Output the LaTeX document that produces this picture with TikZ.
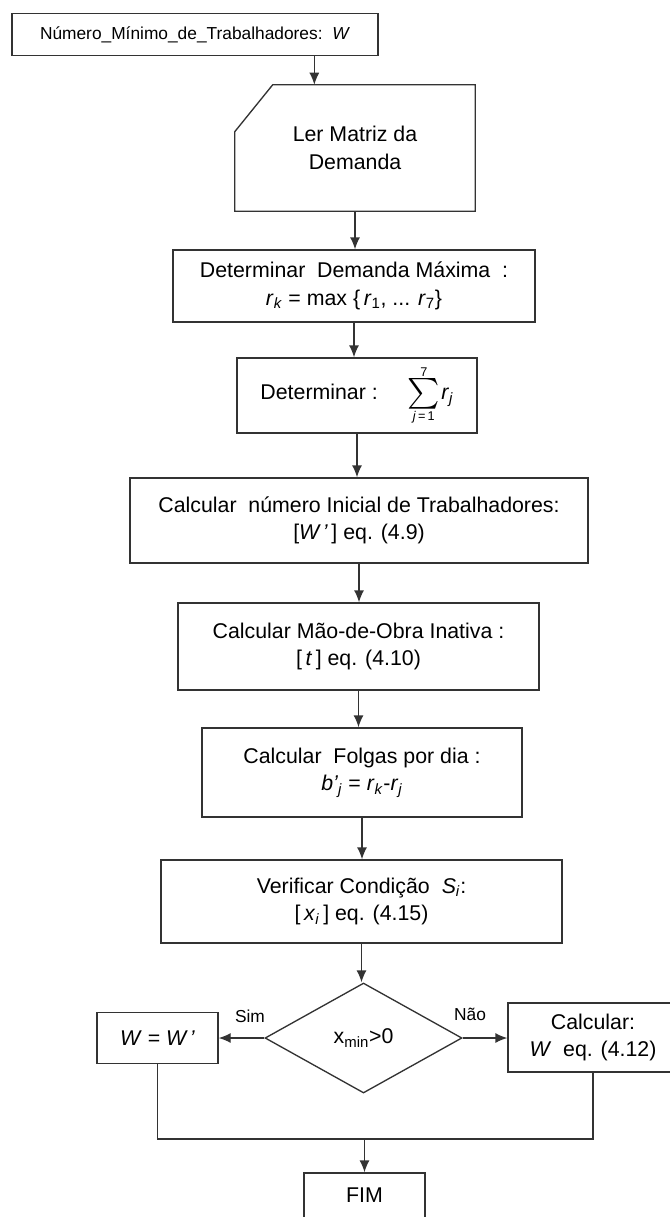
\documentclass[tikz,border=0pt]{standalone}
\usepackage{fontspec}
\usepackage{graphicx}
\setmainfont{Liberation Sans}
\usetikzlibrary{arrows.meta,shapes.geometric,calc}
\newdimen\pxu \pxu=0.75pt
\definecolor{linec}{HTML}{333333}
\newcommand\mainfs{\fontsize{16}{20.5}\selectfont}
\newcommand\topfs{\fontsize{13}{16}\selectfont}
\newcommand\lblfs{\fontsize{13}{16}\selectfont}
\newcommand\limfs{\fontsize{9.5}{9.5}\selectfont}
\newcommand\bigsum{$\displaystyle\mathop{\vcenter{\hbox{\resizebox*{!}{23pt}{$\sum$}}}}\limits^{\mbox{\limfs 7}}_{\mbox{\limfs\textit{j}\,=\,1}}$}
\begin{document}
\begin{tikzpicture}[x=0.75pt,y=-0.75pt,
  proc/.style={draw=linec, line width=1pt, align=center, inner sep=0pt, font=\mainfs},
  arr/.style={draw=linec, line width=1pt, -{Latex[length=9pt,width=7.5pt]}},
  ln/.style={draw=linec, line width=1pt},
  lbl/.style={inner sep=0pt, font=\lblfs}]
\useasboundingbox (0,0) rectangle (669,1217);

\node[proc, minimum width=366\pxu, minimum height=42\pxu, font=\topfs] (n0) at (195,34.5)
  {Número\_Mínimo\_de\_Trabalhadores:\ \ \textit{W}};

\node[inner sep=0pt, minimum width=240\pxu, minimum height=126\pxu, align=center, font=\mainfs] (card) at (355,148)
  {Ler Matriz da\\Demanda};
\draw[ln] ($(card.north west)+(38,0)$) -- (card.north east) -- (card.south east)
  -- (card.south west) -- ($(card.north west)+(0,47)$) -- cycle;

\node[proc, minimum width=362\pxu, minimum height=72\pxu] (b1) at (354,286)
  {Determinar\ \ Demanda Máxima\ \ :\\ \textit{r}\textsubscript{\textit{k}} = max \{\,\textit{r}\textsubscript{1}, ... \textit{r}\textsubscript{7}\}};

\node[proc, minimum width=240\pxu, minimum height=75\pxu] (b2) at (357,395.5)
  {Determinar :\hspace{1.4em}\bigsum\kern1pt\textit{r}\textsubscript{\textit{j}}};

\node[proc, minimum width=458\pxu, minimum height=85\pxu] (b3) at (359,520.5)
  {Calcular\ \ número Inicial de Trabalhadores:\\ {[}\textit{W\,'}\,] eq. (4.9)};

\node[proc, minimum width=361\pxu, minimum height=87\pxu] (b4) at (358.5,646.5)
  {Calcular Mão-de-Obra Inativa :\\ {[}\,\textit{t}\,] eq. (4.10)};

\node[proc, minimum width=320\pxu, minimum height=89\pxu] (b5) at (362,772.5)
  {Calcular\ \ Folgas por dia :\\ \textit{b'}\textsubscript{\textit{j}} = \textit{r}\textsubscript{\textit{k}}-\textit{r}\textsubscript{\textit{j}}};

\node[proc, minimum width=401\pxu, minimum height=83\pxu] (b6) at (361.5,901.5)
  {Verificar Condição\ \ \textit{S}\textsubscript{\textit{i}}:\\ {[}\,\textit{x}\textsubscript{\textit{i}}\,] eq. (4.15)};

\node[diamond, draw=linec, line width=1pt, minimum width=197\pxu, minimum height=110\pxu,
  inner sep=0pt, aspect=1.8, font=\mainfs] (dia) at (363.5,1038) {x\textsubscript{min}>0};

\node[proc, minimum width=121\pxu, minimum height=51\pxu] (yes) at (157.5,1038)
  {\textit{W} = \textit{W\,'}};
\node[proc, minimum width=170\pxu, minimum height=69\pxu] (no) at (593,1037.5)
  {Calcular:\\ \textit{W}\ \ eq. (4.12)};
\node[proc, minimum width=121\pxu, minimum height=45\pxu] (fim) at (364.5,1195.5) {FIM};

\node[lbl] (sim) at (250,1016) {Sim};
\node[lbl] (nao) at (470,1014) {Não};

\coordinate (a0) at ($(n0.south west)+(303,0)$);
\draw[arr] (a0) -- (a0 |- card.north);
\draw[arr] (card.south) -- (card.south |- b1.north);
\draw[arr] (b1.south) -- (b1.south |- b2.north);
\draw[arr] (b2.south) -- (b2.south |- b3.north);
\draw[arr] (b3.south) -- (b3.south |- b4.north);
\draw[arr] (b4.south) -- (b4.south |- b5.north);
\draw[arr] (b5.south) -- (b5.south |- b6.north);
\draw[arr] (b6.south) -- (b6.south |- dia.north);
\draw[arr] (dia.west) -- (dia.west -| yes.east);
\draw[arr] (dia.east) -- (dia.east -| no.west);
\coordinate (m) at (364.5,1139);
\draw[ln] (yes.south) -- (yes.south |- m) -- (no.south |- m) -- (no.south);
\draw[arr] (m) -- (fim.north);
\end{tikzpicture}
\end{document}
